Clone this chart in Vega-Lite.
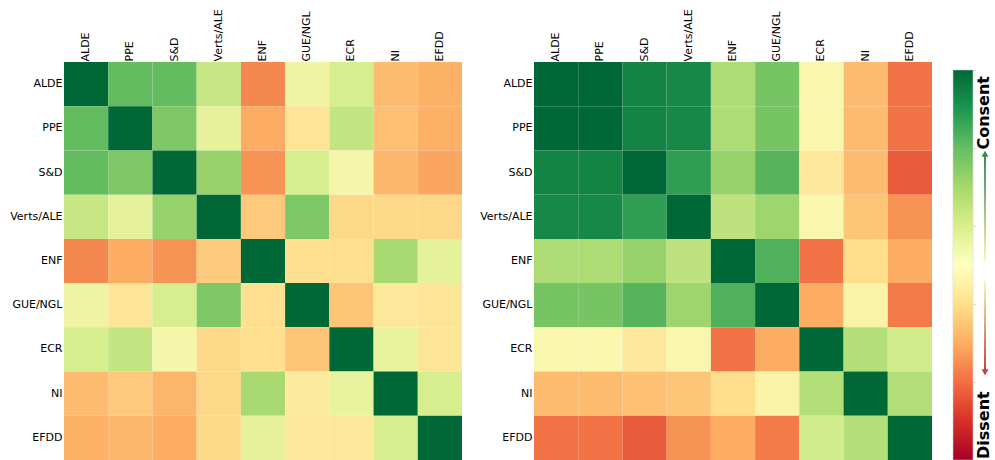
{
  "$schema": "https://vega.github.io/schema/vega-lite/v6.json",
  "padding": {"left": 9, "top": 8, "right": 0, "bottom": 0},
  "spacing": 17,
  "config": {
    "view": {"stroke": null},
    "axis": {"labelFont": "DejaVu Sans", "labelFontSize": 11, "labelColor": "#000000", "ticks": false, "domain": false, "grid": false, "title": null}
  },
  "datasets": {
    "left": [
      {"r":"ALDE","c":"ALDE","v":1},{"r":"ALDE","c":"PPE","v":0.8},{"r":"ALDE","c":"S&D","v":0.8},{"r":"ALDE","c":"Verts/ALE","v":0.63},{"r":"ALDE","c":"ENF","v":0.24},{"r":"ALDE","c":"GUE/NGL","v":0.53},{"r":"ALDE","c":"ECR","v":0.6},{"r":"ALDE","c":"NI","v":0.33},{"r":"ALDE","c":"EFDD","v":0.31},
      {"r":"PPE","c":"ALDE","v":0.8},{"r":"PPE","c":"PPE","v":1},{"r":"PPE","c":"S&D","v":0.76},{"r":"PPE","c":"Verts/ALE","v":0.56},{"r":"PPE","c":"ENF","v":0.3},{"r":"PPE","c":"GUE/NGL","v":0.43},{"r":"PPE","c":"ECR","v":0.64},{"r":"PPE","c":"NI","v":0.34},{"r":"PPE","c":"EFDD","v":0.31},
      {"r":"S&D","c":"ALDE","v":0.8},{"r":"S&D","c":"PPE","v":0.76},{"r":"S&D","c":"S&D","v":1},{"r":"S&D","c":"Verts/ALE","v":0.72},{"r":"S&D","c":"ENF","v":0.26},{"r":"S&D","c":"GUE/NGL","v":0.6},{"r":"S&D","c":"ECR","v":0.51},{"r":"S&D","c":"NI","v":0.32},{"r":"S&D","c":"EFDD","v":0.29},
      {"r":"Verts/ALE","c":"ALDE","v":0.63},{"r":"Verts/ALE","c":"PPE","v":0.56},{"r":"Verts/ALE","c":"S&D","v":0.72},{"r":"Verts/ALE","c":"Verts/ALE","v":1},{"r":"Verts/ALE","c":"ENF","v":0.36},{"r":"Verts/ALE","c":"GUE/NGL","v":0.76},{"r":"Verts/ALE","c":"ECR","v":0.39},{"r":"Verts/ALE","c":"NI","v":0.39},{"r":"Verts/ALE","c":"EFDD","v":0.39},
      {"r":"ENF","c":"ALDE","v":0.24},{"r":"ENF","c":"PPE","v":0.3},{"r":"ENF","c":"S&D","v":0.26},{"r":"ENF","c":"Verts/ALE","v":0.36},{"r":"ENF","c":"ENF","v":1},{"r":"ENF","c":"GUE/NGL","v":0.41},{"r":"ENF","c":"ECR","v":0.41},{"r":"ENF","c":"NI","v":0.69},{"r":"ENF","c":"EFDD","v":0.56},
      {"r":"GUE/NGL","c":"ALDE","v":0.53},{"r":"GUE/NGL","c":"PPE","v":0.43},{"r":"GUE/NGL","c":"S&D","v":0.6},{"r":"GUE/NGL","c":"Verts/ALE","v":0.76},{"r":"GUE/NGL","c":"ENF","v":0.41},{"r":"GUE/NGL","c":"GUE/NGL","v":1},{"r":"GUE/NGL","c":"ECR","v":0.35},{"r":"GUE/NGL","c":"NI","v":0.44},{"r":"GUE/NGL","c":"EFDD","v":0.43},
      {"r":"ECR","c":"ALDE","v":0.6},{"r":"ECR","c":"PPE","v":0.64},{"r":"ECR","c":"S&D","v":0.51},{"r":"ECR","c":"Verts/ALE","v":0.39},{"r":"ECR","c":"ENF","v":0.41},{"r":"ECR","c":"GUE/NGL","v":0.35},{"r":"ECR","c":"ECR","v":1},{"r":"ECR","c":"NI","v":0.55},{"r":"ECR","c":"EFDD","v":0.43},
      {"r":"NI","c":"ALDE","v":0.33},{"r":"NI","c":"PPE","v":0.36},{"r":"NI","c":"S&D","v":0.32},{"r":"NI","c":"Verts/ALE","v":0.39},{"r":"NI","c":"ENF","v":0.69},{"r":"NI","c":"GUE/NGL","v":0.45},{"r":"NI","c":"ECR","v":0.55},{"r":"NI","c":"NI","v":1},{"r":"NI","c":"EFDD","v":0.6},
      {"r":"EFDD","c":"ALDE","v":0.31},{"r":"EFDD","c":"PPE","v":0.32},{"r":"EFDD","c":"S&D","v":0.3},{"r":"EFDD","c":"Verts/ALE","v":0.39},{"r":"EFDD","c":"ENF","v":0.56},{"r":"EFDD","c":"GUE/NGL","v":0.44},{"r":"EFDD","c":"ECR","v":0.44},{"r":"EFDD","c":"NI","v":0.6},{"r":"EFDD","c":"EFDD","v":1}
    ],
    "right": [
      {"r":"ALDE","c":"ALDE","v":1},{"r":"ALDE","c":"PPE","v":1},{"r":"ALDE","c":"S&D","v":0.94},{"r":"ALDE","c":"Verts/ALE","v":0.93},{"r":"ALDE","c":"ENF","v":0.68},{"r":"ALDE","c":"GUE/NGL","v":0.77},{"r":"ALDE","c":"ECR","v":0.5},{"r":"ALDE","c":"NI","v":0.33},{"r":"ALDE","c":"EFDD","v":0.21},
      {"r":"PPE","c":"ALDE","v":1},{"r":"PPE","c":"PPE","v":1},{"r":"PPE","c":"S&D","v":0.94},{"r":"PPE","c":"Verts/ALE","v":0.93},{"r":"PPE","c":"ENF","v":0.68},{"r":"PPE","c":"GUE/NGL","v":0.77},{"r":"PPE","c":"ECR","v":0.5},{"r":"PPE","c":"NI","v":0.33},{"r":"PPE","c":"EFDD","v":0.21},
      {"r":"S&D","c":"ALDE","v":0.94},{"r":"S&D","c":"PPE","v":0.94},{"r":"S&D","c":"S&D","v":1},{"r":"S&D","c":"Verts/ALE","v":0.88},{"r":"S&D","c":"ENF","v":0.72},{"r":"S&D","c":"GUE/NGL","v":0.82},{"r":"S&D","c":"ECR","v":0.44},{"r":"S&D","c":"NI","v":0.33},{"r":"S&D","c":"EFDD","v":0.17},
      {"r":"Verts/ALE","c":"ALDE","v":0.93},{"r":"Verts/ALE","c":"PPE","v":0.93},{"r":"Verts/ALE","c":"S&D","v":0.88},{"r":"Verts/ALE","c":"Verts/ALE","v":1},{"r":"Verts/ALE","c":"ENF","v":0.65},{"r":"Verts/ALE","c":"GUE/NGL","v":0.71},{"r":"Verts/ALE","c":"ECR","v":0.5},{"r":"Verts/ALE","c":"NI","v":0.35},{"r":"Verts/ALE","c":"EFDD","v":0.26},
      {"r":"ENF","c":"ALDE","v":0.68},{"r":"ENF","c":"PPE","v":0.68},{"r":"ENF","c":"S&D","v":0.72},{"r":"ENF","c":"Verts/ALE","v":0.65},{"r":"ENF","c":"ENF","v":1},{"r":"ENF","c":"GUE/NGL","v":0.83},{"r":"ENF","c":"ECR","v":0.21},{"r":"ENF","c":"NI","v":0.4},{"r":"ENF","c":"EFDD","v":0.3},
      {"r":"GUE/NGL","c":"ALDE","v":0.77},{"r":"GUE/NGL","c":"PPE","v":0.77},{"r":"GUE/NGL","c":"S&D","v":0.82},{"r":"GUE/NGL","c":"Verts/ALE","v":0.71},{"r":"GUE/NGL","c":"ENF","v":0.83},{"r":"GUE/NGL","c":"GUE/NGL","v":1},{"r":"GUE/NGL","c":"ECR","v":0.3},{"r":"GUE/NGL","c":"NI","v":0.48},{"r":"GUE/NGL","c":"EFDD","v":0.22},
      {"r":"ECR","c":"ALDE","v":0.5},{"r":"ECR","c":"PPE","v":0.5},{"r":"ECR","c":"S&D","v":0.44},{"r":"ECR","c":"Verts/ALE","v":0.5},{"r":"ECR","c":"ENF","v":0.21},{"r":"ECR","c":"GUE/NGL","v":0.3},{"r":"ECR","c":"ECR","v":1},{"r":"ECR","c":"NI","v":0.67},{"r":"ECR","c":"EFDD","v":0.61},
      {"r":"NI","c":"ALDE","v":0.33},{"r":"NI","c":"PPE","v":0.33},{"r":"NI","c":"S&D","v":0.34},{"r":"NI","c":"Verts/ALE","v":0.35},{"r":"NI","c":"ENF","v":0.4},{"r":"NI","c":"GUE/NGL","v":0.48},{"r":"NI","c":"ECR","v":0.67},{"r":"NI","c":"NI","v":1},{"r":"NI","c":"EFDD","v":0.67},
      {"r":"EFDD","c":"ALDE","v":0.21},{"r":"EFDD","c":"PPE","v":0.21},{"r":"EFDD","c":"S&D","v":0.17},{"r":"EFDD","c":"Verts/ALE","v":0.26},{"r":"EFDD","c":"ENF","v":0.3},{"r":"EFDD","c":"GUE/NGL","v":0.22},{"r":"EFDD","c":"ECR","v":0.61},{"r":"EFDD","c":"NI","v":0.67},{"r":"EFDD","c":"EFDD","v":1}
    ],
    "ends": [
      {"label": "Consent", "level": 1},
      {"label": "Dissent", "level": 0}
    ]
  },
  "hconcat": [
    {
      "width": 398, "height": 398,
      "data": {"name": "left"},
      "mark": {"type": "rect"},
      "encoding": {
        "x": {"field": "c", "type": "nominal", "sort": ["ALDE","PPE","S&D","Verts/ALE","ENF","GUE/NGL","ECR","NI","EFDD"], "scale": {"paddingInner": 0, "paddingOuter": 0}, "axis": {"orient": "top", "labelAngle": 270, "labelPadding": 1}},
        "y": {"field": "r", "type": "nominal", "sort": ["ALDE","PPE","S&D","Verts/ALE","ENF","GUE/NGL","ECR","NI","EFDD"], "scale": {"paddingInner": 0, "paddingOuter": 0}, "axis": {"labelPadding": 2}},
        "color": {"field": "v", "type": "quantitative", "scale": {"scheme": "redyellowgreen", "domain": [0, 1]}, "legend": null}
      }
    },
    {
      "width": 398, "height": 398,
      "data": {"name": "right"},
      "mark": {"type": "rect"},
      "encoding": {
        "x": {"field": "c", "type": "nominal", "sort": ["ALDE","PPE","S&D","Verts/ALE","ENF","GUE/NGL","ECR","NI","EFDD"], "scale": {"paddingInner": 0, "paddingOuter": 0}, "axis": {"orient": "top", "labelAngle": 270, "labelPadding": 1}},
        "y": {"field": "r", "type": "nominal", "sort": ["ALDE","PPE","S&D","Verts/ALE","ENF","GUE/NGL","ECR","NI","EFDD"], "scale": {"paddingInner": 0, "paddingOuter": 0}, "axis": {"labelPadding": 2}},
        "color": {"field": "v", "type": "quantitative", "scale": {"scheme": "redyellowgreen", "domain": [0, 1]}, "legend": null}
      }
    },
    {
      "width": 24, "height": 398,
      "data": {"name": "ends"},
      "layer": [
        {
          "mark": {"type": "rect", "stroke": "#dddddd", "strokeWidth": 0.5,
            "fill": {"gradient": "linear", "x1": 0, "y1": 1, "x2": 0, "y2": 0, "stops": [
              {"offset": 0, "color": "#a50026"}, {"offset": 0.1, "color": "#d73027"}, {"offset": 0.2, "color": "#f46d43"}, {"offset": 0.3, "color": "#fdae61"}, {"offset": 0.4, "color": "#fee08b"}, {"offset": 0.5, "color": "#ffffbf"}, {"offset": 0.6, "color": "#d9ef8b"}, {"offset": 0.7, "color": "#a6d96a"}, {"offset": 0.8, "color": "#66bd63"}, {"offset": 0.9, "color": "#1a9850"}, {"offset": 1, "color": "#006837"}]}},
          "encoding": {
            "x": {"datum": 0, "type": "quantitative", "scale": {"domain": [-0.2, 1], "zero": false, "nice": false}, "axis": null},
            "x2": {"datum": 1},
            "y": {"datum": 0, "type": "quantitative", "scale": {"domain": [0, 1.0205], "nice": false, "zero": false}, "axis": {"orient": "right", "values": [0,0.1,0.2,0.3,0.4,0.5,0.6,0.7,0.8,0.9,1], "labels": false, "ticks": true, "tickSize": 2, "tickColor": "#cccccc", "domain": false}},
            "y2": {"datum": 1}
          }
        },
        {
          "mark": {"type": "rect",
            "fill": {"gradient": "linear", "x1": 0, "y1": 1, "x2": 0, "y2": 0, "stops": [{"offset": 0, "color": "#fbf8b0"}, {"offset": 1, "color": "#3a8a55"}]}},
          "encoding": {
            "x": {"datum": 1.55, "type": "quantitative"}, "x2": {"datum": 1.65},
            "y": {"datum": 0.51, "type": "quantitative"}, "y2": {"datum": 0.78}
          }
        },
        {
          "mark": {"type": "rect",
            "fill": {"gradient": "linear", "x1": 0, "y1": 0, "x2": 0, "y2": 1, "stops": [{"offset": 0, "color": "#fbf8b0"}, {"offset": 1, "color": "#c0473b"}]}},
          "encoding": {
            "x": {"datum": 1.55, "type": "quantitative"}, "x2": {"datum": 1.65},
            "y": {"datum": 0.459, "type": "quantitative"}, "y2": {"datum": 0.23}
          }
        },
        {
          "mark": {"type": "point", "shape": "triangle-up", "filled": true, "opacity": 1, "size": 40, "color": "#3a8a55"},
          "encoding": {
            "x": {"datum": 1.6, "type": "quantitative"},
            "y": {"datum": 0.785, "type": "quantitative"}
          }
        },
        {
          "mark": {"type": "point", "shape": "triangle-down", "filled": true, "opacity": 1, "size": 40, "color": "#c0473b"},
          "encoding": {
            "x": {"datum": 1.6, "type": "quantitative"},
            "y": {"datum": 0.225, "type": "quantitative"}
          }
        },
        {
          "transform": [{"filter": "datum.level == 1"}],
          "mark": {"type": "text", "angle": 270, "align": "right", "baseline": "middle", "font": "DejaVu Sans", "fontWeight": "bold", "fontSize": 16, "color": "#000000", "dx": -6},
          "encoding": {
            "x": {"datum": 1.55, "type": "quantitative"},
            "y": {"field": "level", "type": "quantitative"},
            "text": {"field": "label"}
          }
        },
        {
          "transform": [{"filter": "datum.level == 0"}],
          "mark": {"type": "text", "angle": 270, "align": "left", "baseline": "middle", "font": "DejaVu Sans", "fontWeight": "bold", "fontSize": 16, "color": "#000000", "dx": 1},
          "encoding": {
            "x": {"datum": 1.55, "type": "quantitative"},
            "y": {"field": "level", "type": "quantitative"},
            "text": {"field": "label"}
          }
        }
      ]
    }
  ]
}
